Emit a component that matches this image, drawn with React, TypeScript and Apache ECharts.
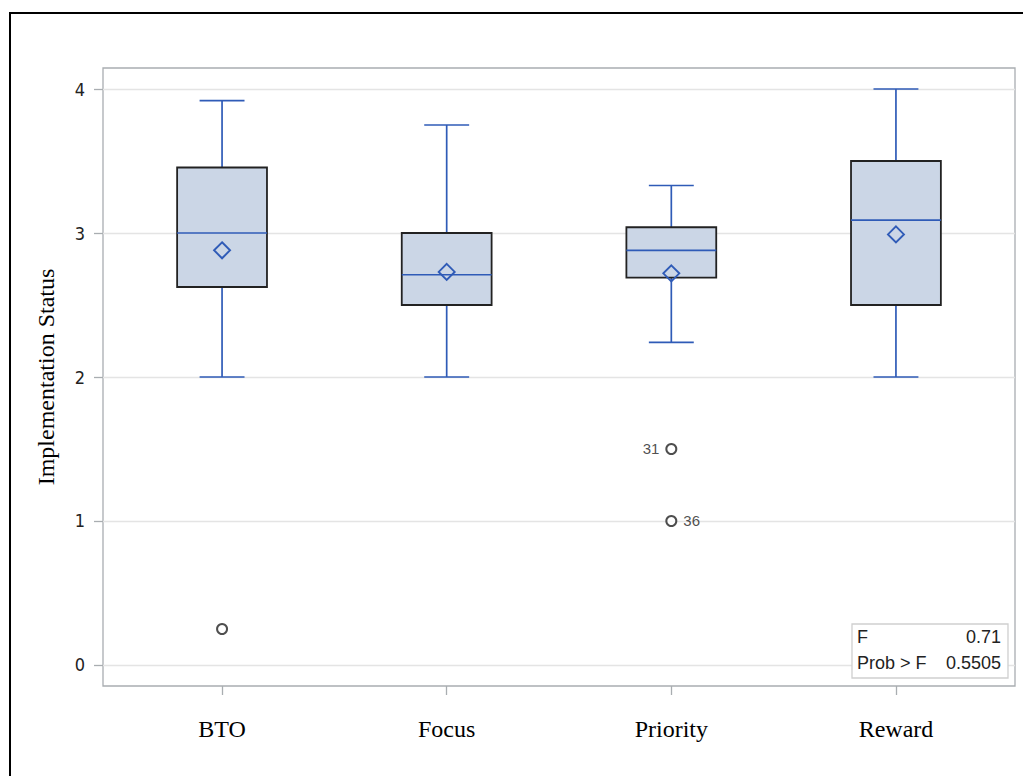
import React, { useEffect, useRef } from "react";
import * as echarts from "echarts";

const categories = ["BTO", "Focus", "Priority", "Reward"];
const whiskerLow = [2.0, 2.0, 2.24, 2.0];
const q1 = [2.625, 2.5, 2.69, 2.5];
const median = [3.0, 2.71, 2.88, 3.09];
const q3 = [3.455, 3.0, 3.04, 3.5];
const whiskerHigh = [3.92, 3.75, 3.33, 4.0];
const means = [2.88, 2.73, 2.72, 2.99];
const outlierCat = [0, 2, 2];
const outlierVal = [0.25, 1.5, 1.0];
const outlierId = ["", "31", "36"];
const outlierLabelPos = ["right", "left", "right"];
const yTicks = [0, 1, 2, 3, 4];
const statLabels = ["F", "Prob > F"];
const statValues = ["0.71", "0.5505"];

const BLUE = "#2F5BB7";
const FILL = "#CBD6E6";
const SANS = "'Liberation Sans', Arial, sans-serif";
const SERIF = "'Liberation Serif', 'Times New Roman', serif";

export default function App() {
  const ref = useRef<HTMLDivElement>(null);
  useEffect(() => {
    if (!ref.current) return;
    const chart = echarts.init(ref.current, null, { renderer: "svg" });
    const boxData = categories.map((_, i) => [
      i,
      whiskerLow[i],
      q1[i],
      median[i],
      q3[i],
      whiskerHigh[i],
      means[i],
    ]);
    const renderItem = (params: any, api: any) => {
      const x = api.value(0);
      const halfW = api.size([0.4, 0])[0] / 2;
      const capW = halfW / 2;
      const pLow = api.coord([x, api.value(1)]);
      const pQ1 = api.coord([x, api.value(2)]);
      const pMed = api.coord([x, api.value(3)]);
      const pQ3 = api.coord([x, api.value(4)]);
      const pHigh = api.coord([x, api.value(5)]);
      const pMean = api.coord([x, api.value(6)]);
      const cx = pMed[0];
      const d = 8;
      const lineStyle = { stroke: BLUE, lineWidth: 1.7 };
      return {
        type: "group",
        children: [
          { type: "line", shape: { x1: cx, y1: pHigh[1], x2: cx, y2: pQ3[1] }, style: lineStyle },
          { type: "line", shape: { x1: cx, y1: pQ1[1], x2: cx, y2: pLow[1] }, style: lineStyle },
          { type: "line", shape: { x1: cx - capW, y1: pHigh[1], x2: cx + capW, y2: pHigh[1] }, style: lineStyle },
          { type: "line", shape: { x1: cx - capW, y1: pLow[1], x2: cx + capW, y2: pLow[1] }, style: lineStyle },
          {
            type: "rect",
            shape: { x: cx - halfW, y: pQ3[1], width: halfW * 2, height: pQ1[1] - pQ3[1] },
            style: { fill: FILL, stroke: "#222", lineWidth: 1.8 },
          },
          { type: "line", shape: { x1: cx - halfW, y1: pMed[1], x2: cx + halfW, y2: pMed[1] }, style: lineStyle },
          {
            type: "polygon",
            shape: {
              points: [
                [pMean[0], pMean[1] - d],
                [pMean[0] + d, pMean[1]],
                [pMean[0], pMean[1] + d],
                [pMean[0] - d, pMean[1]],
              ],
            },
            style: { fill: "none", stroke: BLUE, lineWidth: 1.9 },
          },
        ],
      };
    };
    chart.setOption({
      animation: false,
      grid: {
        left: 103,
        top: 68,
        width: 912,
        height: 618,
        show: true,
        borderColor: "#a9adb1",
        borderWidth: 1.3,
        backgroundColor: "transparent",
      },
      xAxis: {
        type: "value",
        min: -0.53,
        max: 3.53,
        axisLine: { show: false, onZero: false },
        splitLine: { show: false },
        axisTick: {
          show: true,
          customValues: [0, 1, 2, 3],
          length: 9,
          lineStyle: { color: "#a9adb1", width: 1.3 },
        },
        axisLabel: {
          customValues: [0, 1, 2, 3],
          formatter: (v: number) => categories[Math.round(v)] ?? "",
          margin: 31,
          fontFamily: SERIF,
          fontSize: 24,
          color: "#000",
        },
      },
      yAxis: {
        type: "value",
        min: -0.146,
        max: 4.146,
        axisLine: { show: false, onZero: false },
        splitLine: { show: false },
        axisTick: {
          show: true,
          customValues: yTicks,
          length: 9,
          lineStyle: { color: "#a9adb1", width: 1.3 },
        },
        axisLabel: {
          customValues: yTicks,
          margin: 18,
          fontFamily: "'Liberation Sans Narrow', 'Arial Narrow', 'DejaVu Sans Condensed', sans-serif",
          fontSize: 18,
          color: "#222",
        },
        name: "Implementation Status",
        nameLocation: "middle",
        nameRotate: 90,
        nameGap: 45,
        nameTextStyle: {
          fontFamily: SERIF,
          fontSize: 24,
          color: "#000",
        },
      },
      series: [
        {
          type: "custom",
          renderItem,
          data: boxData,
          encode: { x: 0, y: [1, 5] },
          silent: true,
          z: 3,
          markLine: {
            silent: true,
            symbol: "none",
            label: { show: false },
            lineStyle: { color: "#e4e4e4", width: 1.3, type: "solid" },
            data: yTicks.map((v) => ({ yAxis: v })),
            z: 1,
          },
        },
        {
          type: "scatter",
          symbol: "emptyCircle",
          symbolSize: 10,
          z: 4,
          itemStyle: { color: "#222", borderColor: "#222", borderWidth: 1.6 },
          data: outlierVal.map((v, i) => ({
            value: [outlierCat[i], v],
            label: {
              show: outlierId[i] !== "",
              formatter: outlierId[i],
              position: outlierLabelPos[i],
              distance: 6,
              fontFamily: SANS,
              fontSize: 15,
              color: "#222",
            },
          })),
        },
      ],
      graphic: [
        {
          type: "rect",
          shape: { x: 10, y: 13, width: 1100, height: 900 },
          style: { fill: "none", stroke: "#000", lineWidth: 2 },
          silent: true,
        },
        {
          type: "rect",
          shape: { x: 852, y: 624, width: 156, height: 54 },
          style: { fill: "#fff", stroke: "#cfcfcf", lineWidth: 1.3 },
          z: 10,
        },
        ...statLabels.map((t, i) => ({
          type: "text",
          x: 857,
          y: 637 + i * 26,
          z: 11,
          style: {
            text: t,
            fontFamily: SANS,
            fontSize: 18,
            fill: "#222",
            verticalAlign: "middle",
          },
        })),
        ...statValues.map((t, i) => ({
          type: "text",
          x: 1001,
          y: 637 + i * 26,
          z: 11,
          style: {
            text: t,
            fontFamily: SANS,
            fontSize: 18,
            fill: "#222",
            align: "right",
            verticalAlign: "middle",
          },
        })),
      ],
    });
    return () => chart.dispose();
  }, []);
  return (
    <div
      ref={ref}
      style={{ position: "fixed", left: 0, top: 0, width: 1023, height: 776, background: "#fff" }}
    />
  );
}
